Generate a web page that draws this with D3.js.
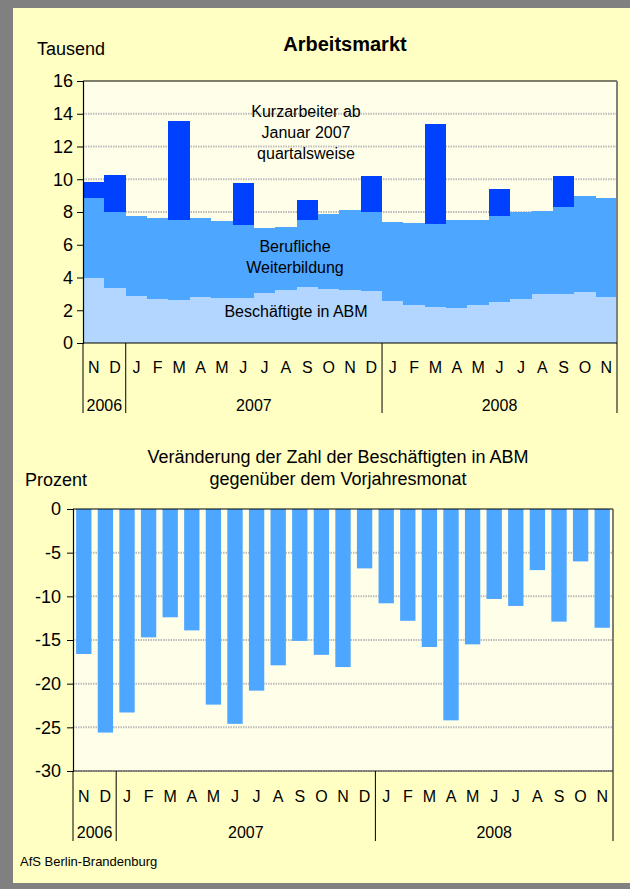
<!DOCTYPE html>
<html><head><meta charset="utf-8">
<script src="https://cdn.jsdelivr.net/npm/d3@7"></script>
<style>html,body{margin:0;padding:0;background:#808080;}svg{display:block;font-family:"Liberation Sans",Arial,sans-serif;}</style>
</head><body>
<svg id="c" width="630" height="889"></svg>
<script>
const months = ["N","D","J","F","M","A","M","J","J","A","S","O","N","D","J","F","M","A","M","J","J","A","S","O","N"];
const years = [{label:"2006", start:0, end:2},{label:"2007", start:2, end:14},{label:"2008", start:14, end:25}];
const abm = [3.97,3.36,2.85,2.69,2.60,2.83,2.77,2.77,3.05,3.21,3.42,3.32,3.25,3.19,2.54,2.34,2.18,2.14,2.30,2.48,2.71,3.01,2.99,3.11,2.79];
const fbw = [4.88,4.62,4.88,4.96,4.89,4.82,4.68,4.43,3.99,3.89,4.09,4.53,4.90,4.79,4.85,5.01,5.11,5.39,5.21,5.25,5.31,5.07,5.31,5.87,6.04];
const kurz = [1.00,2.26,null,null,6.04,null,null,2.55,null,null,1.20,null,null,2.24,null,null,6.06,null,null,1.65,null,null,1.92,null,null];
const abmChange = [-16.6,-25.6,-23.3,-14.7,-12.4,-13.9,-22.4,-24.6,-20.8,-17.9,-15.1,-16.7,-18.1,-6.8,-10.8,-12.8,-15.8,-24.2,-15.5,-10.3,-11.1,-7.0,-12.9,-6.0,-13.6];
const topTicks = [0,2,4,6,8,10,12,14,16];
const botTicks = [0,-5,-10,-15,-20,-25,-30];

const svg = d3.select("#c");
const FONT = "Liberation Sans, Arial, sans-serif";
const fmt = d => String(d);
svg.append("rect").attr("x",13).attr("y",8).attr("width",617).attr("height",875).attr("fill","#ffffc4");

function gridLines(g, y, ticks, x0, x1, skip) {
  ticks.forEach(t => {
    if (skip.includes(t)) return;
    g.append("line").attr("x1",x0).attr("x2",x1).attr("y1",y(t)).attr("y2",y(t))
      .attr("stroke","#bdbdbd").attr("stroke-width",2).attr("stroke-dasharray","1.5,1");
  });
}

function xAxisBlock(g, x, yBase, labelY, yearY, sepBottom) {
  months.forEach((m,i) => {
    g.append("text").attr("x", x(i) + x.bandwidth()/2).attr("y", labelY)
      .attr("text-anchor","middle").attr("font-size",16).attr("fill","#000").text(m);
  });
  const bw = x.step();
  const x0 = x(0);
  const bounds = [0,2,14,25];
  bounds.forEach(b => {
    g.append("line").attr("x1", x0 + b*bw).attr("x2", x0 + b*bw).attr("y1", yBase).attr("y2", sepBottom)
      .attr("stroke","#000").attr("stroke-width",1);
  });
  years.forEach(yr => {
    g.append("text").attr("x", x0 + (yr.start+yr.end)/2*bw).attr("y", yearY)
      .attr("text-anchor","middle").attr("font-size",16).attr("fill","#000").text(yr.label);
  });
}

// ---------- TOP CHART ----------
{
  const L=83, R=617, T=81, B=343;
  const g = svg.append("g");
  const x = d3.scaleBand().domain(d3.range(months.length)).range([L,R]).paddingInner(0).paddingOuter(0);
  const y = d3.scaleLinear().domain([0,16]).range([B,T]);
  g.append("rect").attr("x",L).attr("y",T).attr("width",R-L).attr("height",B-T).attr("fill","#ffffe9");
  gridLines(g, y, topTicks, L, R, [0,16]);

  const rows = months.map((m,i) => ({i, abm:abm[i], fbw:fbw[i], kurz:kurz[i]==null?0:kurz[i]}));
  const stack = d3.stack().keys(["abm","fbw","kurz"])(rows);
  const colors = {abm:"#b2d6ff", fbw:"#4da6ff", kurz:"#0040ff"};
  stack.forEach(layer => {
    g.append("g").selectAll("rect").data(layer.filter(d => d[1]-d[0] > 0)).join("rect")
      .attr("x", d => Math.round(x(d.data.i)))
      .attr("width", d => Math.round(x(d.data.i)+x.bandwidth()) - Math.round(x(d.data.i)))
      .attr("y", d => y(d[1])).attr("height", d => y(d[0]) - y(d[1]))
      .attr("fill", colors[layer.key])
      .attr("shape-rendering","crispEdges");
  });

  // borders
  g.append("line").attr("x1",L).attr("x2",R).attr("y1",T).attr("y2",T).attr("stroke","#000").attr("stroke-width",1.2);
  g.append("line").attr("x1",R).attr("x2",R).attr("y1",T).attr("y2",B).attr("stroke","#808080").attr("stroke-width",2);
  g.append("line").attr("x1",L).attr("x2",R).attr("y1",B).attr("y2",B).attr("stroke","#000").attr("stroke-width",1.2);

  const ya = g.append("g").attr("transform",`translate(${L},0)`)
    .call(d3.axisLeft(y).tickValues(topTicks).tickSize(6).tickPadding(4).tickFormat(fmt));
  ya.select(".domain").attr("stroke","#000").attr("stroke-width",1.2);
  ya.selectAll("text").attr("font-size",18).attr("font-family",FONT).attr("fill","#000");
  ya.selectAll("line").attr("stroke","#000");

  xAxisBlock(g, x, B, 373, 411, 413);

  g.append("text").attr("x",37).attr("y",55).attr("font-size",18).text("Tausend");
  g.append("text").attr("x",345).attr("y",51).attr("text-anchor","middle").attr("font-size",20).attr("font-weight","bold").text("Arbeitsmarkt");

  const ann = [["Kurzarbeiter ab",306,117],["Januar 2007",306,138],["quartalsweise",306,159],
               ["Berufliche",295,252],["Weiterbildung",295,273],["Beschäftigte in ABM",296,317]];
  ann.forEach(a => g.append("text").attr("x",a[1]).attr("y",a[2]).attr("text-anchor","middle").attr("font-size",16).text(a[0]));
}

// ---------- BOTTOM CHART ----------
{
  const L=73, R=613, T=509, B=771;
  const g = svg.append("g");
  const x = d3.scaleBand().domain(d3.range(months.length)).range([L,R]).paddingInner(0.29).paddingOuter(0.145);
  const y = d3.scaleLinear().domain([-30,0]).range([B,T]);
  g.append("rect").attr("x",L).attr("y",T).attr("width",R-L).attr("height",B-T).attr("fill","#ffffe9");
  gridLines(g, y, botTicks, L, R, [0]);

  g.append("g").selectAll("rect").data(abmChange).join("rect")
    .attr("x", (d,i) => x(i)).attr("width", x.bandwidth())
    .attr("y", y(0)).attr("height", d => y(d) - y(0))
    .attr("fill","#4da6ff");

  g.append("line").attr("x1",L).attr("x2",R).attr("y1",T).attr("y2",T).attr("stroke","#000").attr("stroke-width",1.2);
  g.append("line").attr("x1",R).attr("x2",R).attr("y1",T).attr("y2",B).attr("stroke","#555").attr("stroke-width",1.5);
  g.append("line").attr("x1",L).attr("x2",R).attr("y1",B).attr("y2",B).attr("stroke","#333").attr("stroke-width",1.2);

  const ya = g.append("g").attr("transform",`translate(${L},0)`)
    .call(d3.axisLeft(y).tickValues(botTicks).tickSize(6).tickPadding(6).tickFormat(fmt));
  ya.select(".domain").attr("stroke","#000").attr("stroke-width",1.2);
  ya.selectAll("text").attr("font-size",18).attr("font-family",FONT).attr("fill","#000");
  ya.selectAll("line").attr("stroke","#000");

  const xs = d3.scaleBand().domain(d3.range(months.length)).range([L,R]).padding(0);
  xAxisBlock(g, xs, B, 802, 838, 841);

  g.append("text").attr("x",338).attr("y",463).attr("text-anchor","middle").attr("font-size",18).text("Veränderung der Zahl der Beschäftigten in ABM");
  g.append("text").attr("x",338).attr("y",485).attr("text-anchor","middle").attr("font-size",18).text("gegenüber dem Vorjahresmonat");
  g.append("text").attr("x",25).attr("y",486).attr("font-size",18).text("Prozent");
  g.append("text").attr("x",20).attr("y",866).attr("font-size",13).text("AfS Berlin-Brandenburg");
}
</script>
</body></html>
